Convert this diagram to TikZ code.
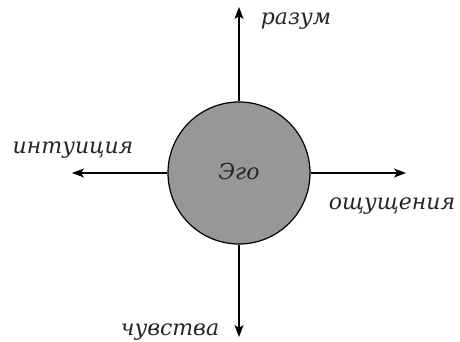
\documentclass[tikz,border=0pt]{standalone}
\usepackage{fontspec}
\setmainfont{DejaVu Serif}
\usetikzlibrary{arrows.meta}
\definecolor{egogray}{HTML}{97979A}
\begin{document}
\begin{tikzpicture}[x=1pt,y=-1pt,
  axis/.style={line width=1.2pt,-{Stealth[length=12pt,width=9pt,inset=3pt]}},
  lbl/.style={font=\fontsize{22}{26}\selectfont\itshape, inner sep=0pt, anchor=base, text=black!85}]
\useasboundingbox (0,0) rectangle (460,342);
\node[circle, draw, line width=1.2pt, fill=egogray, minimum size=142pt, inner sep=0pt] (ego) at (239,173) {};
\node[lbl] (egot) at (239,179) {Эго};
\coordinate (up) at (239,7);
\coordinate (dn) at (239,337);
\coordinate (lf) at (72,173);
\coordinate (rt) at (406,173);
\draw[axis] (ego.north) -- (up);
\draw[axis] (ego.south) -- (dn);
\draw[axis] (ego.west) -- (lf);
\draw[axis] (ego.east) -- (rt);
\node[lbl] (t1) at (296,25) {разум};
\node[lbl] (t2) at (73,153) {интуиция};
\node[lbl] (t3) at (392,209) {ощущения};
\node[lbl] (t4) at (170,335) {чувства};
\end{tikzpicture}
\end{document}
